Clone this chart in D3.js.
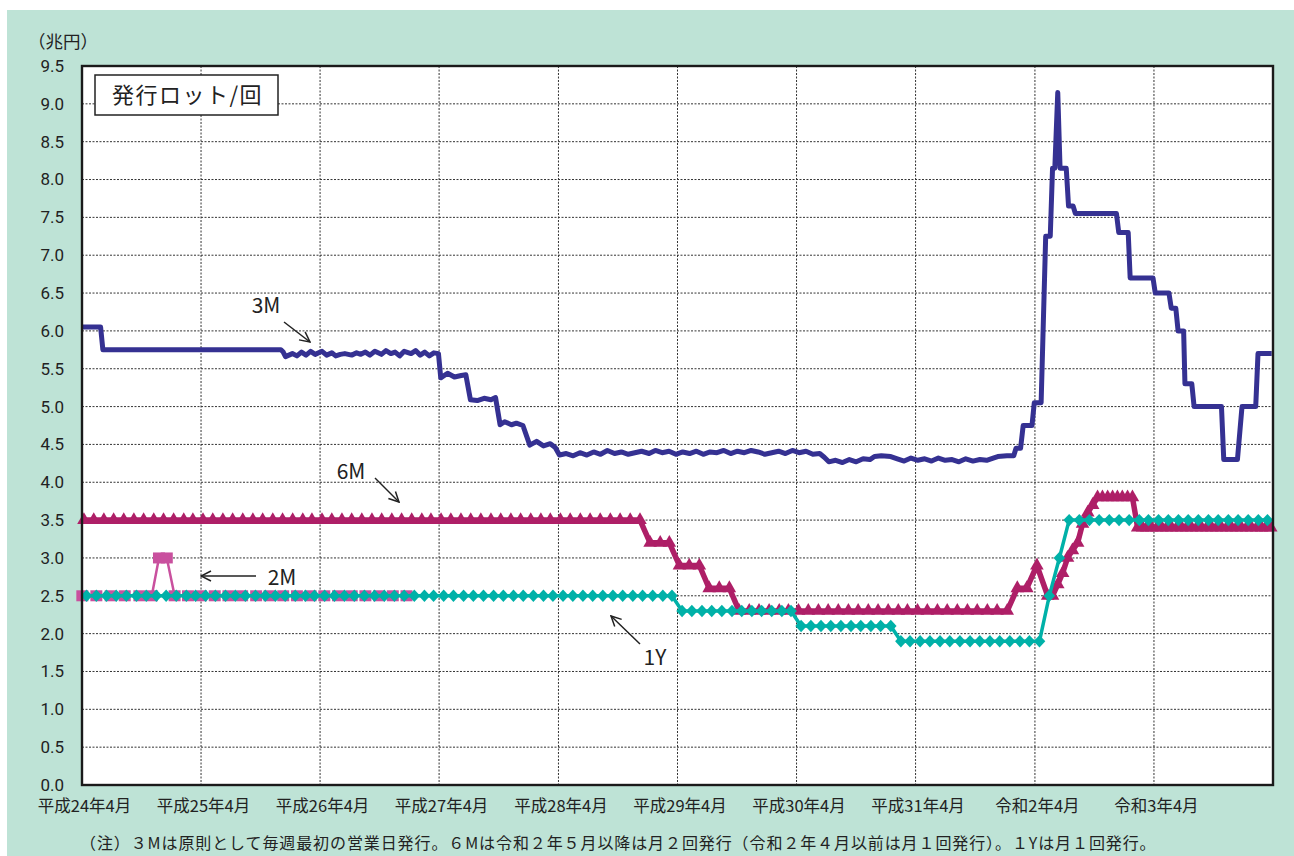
<!DOCTYPE html>
<html><head><meta charset="utf-8">
<script src="https://cdn.jsdelivr.net/npm/d3@7"></script>
<style>
html,body{margin:0;padding:0;background:#fff;}
svg{display:block;font-family:"Noto Sans CJK JP","Noto Sans",sans-serif;}
</style></head>
<body>
<svg id="c" width="1294" height="856"></svg>
<script>
// ---------------- DATA ----------------
const xTickDates = ["2012-04-01","2013-04-01","2014-04-01","2015-04-01","2016-04-01","2017-04-01","2018-04-01","2019-04-01","2020-04-01","2021-04-01"];
const xTickLabels = ["平成24年4月","平成25年4月","平成26年4月","平成27年4月","平成28年4月","平成29年4月","平成30年4月","平成31年4月","令和2年4月","令和3年4月"];
const yTicks = [0,0.5,1,1.5,2,2.5,3,3.5,4,4.5,5,5.5,6,6.5,7,7.5,8,8.5,9,9.5];

// 3M (weekly issuance, points read at changes)
const dates3M = ["2012-04-02","2012-05-28","2012-06-04","2013-12-02","2013-12-09","2013-12-16","2014-01-06","2014-01-20","2014-02-03","2014-02-17","2014-03-03","2014-03-17","2014-04-07","2014-04-21","2014-05-07","2014-05-19","2014-06-02","2014-06-16","2014-07-07","2014-07-22","2014-08-04","2014-08-18","2014-09-01","2014-09-16","2014-10-06","2014-10-20","2014-11-04","2014-11-17","2014-12-01","2014-12-15","2015-01-05","2015-01-19","2015-02-02","2015-02-16","2015-03-02","2015-03-16","2015-03-30",
"2015-04-06","2015-04-27","2015-05-18","2015-06-08","2015-06-22",
"2015-07-06","2015-07-27","2015-08-17","2015-09-07","2015-09-21",
"2015-10-05","2015-10-19","2015-11-09","2015-11-24","2015-12-14",
"2016-01-04","2016-01-25","2016-02-15","2016-03-07","2016-03-22",
"2016-04-04","2016-04-25","2016-05-16","2016-06-06","2016-06-27","2016-07-18","2016-08-08","2016-08-29","2016-09-20","2016-10-11","2016-11-01","2016-11-21","2016-12-12","2017-01-04","2017-01-23","2017-02-13","2017-03-06","2017-03-27","2017-04-17","2017-05-08","2017-05-29","2017-06-19","2017-07-10","2017-07-31","2017-08-21","2017-09-11","2017-10-02","2017-10-23","2017-11-13","2017-12-04","2017-12-25","2018-01-15","2018-02-05","2018-02-26","2018-03-19","2018-04-09","2018-04-30","2018-05-21","2018-06-11",
"2018-06-25","2018-07-09","2018-07-30","2018-08-20","2018-09-10","2018-10-01","2018-10-22","2018-11-12","2018-11-26","2018-12-17","2019-01-15","2019-02-04","2019-02-25","2019-03-18","2019-04-08","2019-04-29","2019-05-20","2019-06-10","2019-07-01","2019-07-22","2019-08-12","2019-09-02","2019-09-24","2019-10-15","2019-11-05","2019-11-25","2019-12-09","2020-01-06","2020-01-27",
"2020-02-03","2020-02-17","2020-02-25","2020-03-23","2020-03-30","2020-04-20","2020-05-04","2020-05-18","2020-05-25","2020-06-01","2020-06-10","2020-06-17","2020-07-06","2020-07-13","2020-07-27","2020-08-03","2020-12-07","2020-12-14","2021-01-12","2021-01-18","2021-03-29","2021-04-05","2021-05-17","2021-05-24","2021-06-07","2021-06-14","2021-07-01","2021-07-05","2021-07-26","2021-08-02","2021-10-25","2021-11-01","2021-12-13","2021-12-27","2022-02-07","2022-02-14","2022-03-28"];
const values3M = [6.05,6.05,5.75,5.75,5.72,5.66,5.70,5.67,5.72,5.68,5.73,5.69,5.73,5.68,5.71,5.67,5.69,5.70,5.68,5.71,5.69,5.72,5.68,5.73,5.69,5.74,5.70,5.72,5.67,5.73,5.70,5.74,5.68,5.72,5.67,5.71,5.70,
5.38,5.44,5.39,5.41,5.42,
5.09,5.08,5.11,5.09,5.12,
4.76,4.80,4.76,4.78,4.75,
4.49,4.54,4.48,4.51,4.46,
4.36,4.38,4.35,4.39,4.36,4.40,4.37,4.42,4.38,4.40,4.37,4.39,4.41,4.38,4.42,4.39,4.41,4.37,4.40,4.38,4.41,4.37,4.40,4.39,4.42,4.38,4.41,4.39,4.42,4.40,4.37,4.39,4.41,4.38,4.42,4.39,4.41,4.37,4.38,
4.33,4.27,4.29,4.26,4.30,4.27,4.31,4.30,4.34,4.35,4.34,4.31,4.28,4.32,4.29,4.31,4.28,4.32,4.29,4.30,4.27,4.31,4.28,4.30,4.29,4.32,4.34,4.35,4.35,
4.45,4.45,4.75,4.75,5.05,5.05,7.25,7.25,8.15,8.15,9.15,8.15,8.15,7.65,7.65,7.55,7.55,7.30,7.30,6.70,6.70,6.50,6.50,6.30,6.30,6.00,6.00,5.30,5.30,5.00,5.00,4.30,4.30,5.00,5.00,5.70,5.70];

// 6M: monthly Apr 2012 - Apr 2020 (issued early in month)
const values6Mmonthly = [3.5,3.5,3.5,3.5,3.5,3.5,3.5,3.5,3.5,3.5,3.5,3.5, 3.5,3.5,3.5,3.5,3.5,3.5,3.5,3.5,3.5,3.5,3.5,3.5, 3.5,3.5,3.5,3.5,3.5,3.5,3.5,3.5,3.5,3.5,3.5,3.5, 3.5,3.5,3.5,3.5,3.5,3.5,3.5,3.5,3.5,3.5,3.5,3.5, 3.5,3.5,3.5,3.5,3.5,3.5,3.5,3.5,3.5,3.2,3.2,3.2, 2.9,2.9,2.9,2.6,2.6,2.6,2.3,2.3,2.3,2.3,2.3,2.3, 2.3,2.3,2.3,2.3,2.3,2.3,2.3,2.3,2.3,2.3,2.3,2.3, 2.3,2.3,2.3,2.3,2.3,2.3,2.3,2.3,2.3,2.3,2.6,2.6, 2.9];
// 6M: twice a month from May 2020
const values6Msemi = [2.5,2.5,2.65,2.8,3.0,3.1,3.2,3.45,3.6,3.7,3.8,3.8,3.8,3.8,3.8,3.8,3.8,3.8,3.4,3.4,3.4,3.4,3.4,3.4,3.4,3.4,3.4,3.4,3.4,3.4,3.4,3.4,3.4,3.4,3.4,3.4,3.4,3.4,3.4,3.4,3.4,3.4,3.4,3.4,3.4,3.4];

// 1Y: monthly Apr 2012 - Mar 2022 (issued mid-month)
const values1Y = [2.5,2.5,2.5,2.5,2.5,2.5,2.5,2.5,2.5,2.5,2.5,2.5, 2.5,2.5,2.5,2.5,2.5,2.5,2.5,2.5,2.5,2.5,2.5,2.5, 2.5,2.5,2.5,2.5,2.5,2.5,2.5,2.5,2.5,2.5,2.5,2.5, 2.5,2.5,2.5,2.5,2.5,2.5,2.5,2.5,2.5,2.5,2.5,2.5, 2.5,2.5,2.5,2.5,2.5,2.5,2.5,2.5,2.5,2.5,2.5,2.5, 2.3,2.3,2.3,2.3,2.3,2.3,2.3,2.3,2.3,2.3,2.3,2.3, 2.1,2.1,2.1,2.1,2.1,2.1,2.1,2.1,2.1,2.1,1.9,1.9, 1.9,1.9,1.9,1.9,1.9,1.9,1.9,1.9,1.9,1.9,1.9,1.9, 1.9,2.5,3.0,3.5,3.5,3.5,3.5,3.5,3.5,3.5,3.5,3.5, 3.5,3.5,3.5,3.5,3.5,3.5,3.5,3.5,3.5,3.5,3.5,3.5];

// 2M
const dates2M = ["2012-04-02","2012-05-15","2012-06-28","2012-08-10","2012-09-24","2012-11-01","2012-11-23","2012-12-17","2013-01-10","2013-02-20","2013-04-01","2013-05-13","2013-06-24","2013-08-05","2013-09-17","2013-10-28","2013-12-09","2014-01-20","2014-03-03","2014-04-14","2014-05-26","2014-07-07","2014-08-18","2014-09-29","2014-11-10","2014-12-22"];
const values2M = [2.5,2.5,2.5,2.5,2.5,2.5,3.0,3.0,2.5,2.5,2.5,2.5,2.5,2.5,2.5,2.5,2.5,2.5,2.5,2.5,2.5,2.5,2.5,2.5,2.5,2.5];

// ---------------- BUILD ----------------
const parse = d3.timeParse("%Y-%m-%d");
const s3M = dates3M.map((d,i)=>({d:parse(d), v:values3M[i]}));
const s6M = values6Mmonthly.map((v,i)=>({d:new Date(2012,3+i,7), v}))
  .concat(values6Msemi.map((v,i)=>({d:new Date(2020,4+Math.floor(i/2), i%2===0?10:25), v})));
const s1Y = values1Y.map((v,i)=>({d:new Date(2012,3+i,15), v}));
const s2M = dates2M.map((d,i)=>({d:parse(d), v:values2M[i]}));

const svg = d3.select("#c");
const L=82, R=1273, T=66, B=785;
const x = d3.scaleTime().domain([new Date(2012,3,1), new Date(2022,3,1)]).range([L,R]);
const y = d3.scaleLinear().domain([0,9.5]).range([B,T]);

// background
svg.append("rect").attr("x",7).attr("y",10).attr("width",1287).attr("height",846).attr("fill","#bee3d6");
svg.append("rect").attr("x",L).attr("y",T).attr("width",R-L).attr("height",B-T).attr("fill","#fff");

// grid
const grid = svg.append("g");
grid.selectAll("line.h").data(yTicks.filter(t=>t>0 && t<9.5)).enter().append("line")
  .attr("x1",L).attr("x2",R).attr("y1",d=>y(d)).attr("y2",d=>y(d))
  .attr("stroke","#333").attr("stroke-width",1).attr("stroke-dasharray","2,1.5");
grid.selectAll("line.v").data(xTickDates.slice(1).map(parse)).enter().append("line")
  .attr("y1",T).attr("y2",B).attr("x1",d=>x(d)).attr("x2",d=>x(d))
  .attr("stroke","#333").attr("stroke-width",1).attr("stroke-dasharray","2,1.5");

// axes
const yAxis = d3.axisLeft(y).tickValues(yTicks).tickFormat(d3.format(".1f")).tickSize(0).tickPadding(18);
const gy = svg.append("g").attr("transform",`translate(${L},0)`).call(yAxis);
gy.select(".domain").remove();
gy.selectAll("text").attr("font-size",17).attr("fill","#222").attr("font-family","Roboto, 'Noto Sans', sans-serif");

const xAxis = d3.axisBottom(x).tickValues(xTickDates.map(parse)).tickFormat((d,i)=>xTickLabels[i]).tickSize(0).tickPadding(15);
const gx = svg.append("g").attr("transform",`translate(0,${B})`).call(xAxis);
gx.select(".domain").remove();
gx.selectAll("text").attr("font-size",16.5).attr("fill","#222").attr("font-family","'Noto Sans CJK JP', sans-serif").attr("dx",2);

// series
const line = d3.line().x(d=>x(d.d)).y(d=>y(d.v));
const plot = svg.append("g");
const diamond = {draw(ctx, size){ const w=5.8, h=6.2; ctx.moveTo(0,-h); ctx.lineTo(w,0); ctx.lineTo(0,h); ctx.lineTo(-w,0); ctx.closePath(); }};
const rectSym = {draw(ctx, size){ const w=6, h=5.5; ctx.rect(-w,-h,2*w,2*h); }};

function markers(data, type, size, color){
  plot.append("g").selectAll("path").data(data).enter().append("path")
    .attr("d", d3.symbol().type(type).size(size))
    .attr("transform", d=>`translate(${x(d.d)},${y(d.v)})`)
    .attr("fill", color);
}
// 2M
plot.append("path").datum(s2M).attr("d",line).attr("fill","none").attr("stroke","#c9509e").attr("stroke-width",2.5);
markers(s2M, rectSym, 0, "#c9509e");
// 6M
plot.append("path").datum(s6M).attr("d",line).attr("fill","none").attr("stroke","#ae1f67").attr("stroke-width",5.5);
markers(s6M, d3.symbolTriangle, 80, "#ae1f67");
// 1Y
plot.append("path").datum(s1Y).attr("d",line).attr("fill","none").attr("stroke","#00b1a8").attr("stroke-width",3.5);
markers(s1Y, diamond, 0, "#00b1a8");
// 3M
plot.append("path").datum(s3M).attr("d",line).attr("fill","none").attr("stroke","#353192").attr("stroke-width",5).attr("stroke-linejoin","round");

// border
svg.append("rect").attr("x",L).attr("y",T).attr("width",R-L).attr("height",B-T).attr("fill","none").attr("stroke","#1a1a1a").attr("stroke-width",2.4);

// unit label
svg.append("text").attr("x",28).attr("y",48).attr("font-size",17.5).attr("fill","#222").text("（兆円）");

// title box
svg.append("rect").attr("x",95).attr("y",75).attr("width",183).attr("height",40).attr("fill","#fff").attr("stroke","#222").attr("stroke-width",1.5);
svg.append("text").attr("x",187.5).attr("y",103).attr("text-anchor","middle").attr("font-size",22).attr("letter-spacing",1.5).attr("fill","#222").text("発行ロット/回");

// arrows
const defs = svg.append("defs");
defs.append("marker").attr("id","ah").attr("viewBox","-11 -6 12 12").attr("refX",0).attr("refY",0)
  .attr("markerWidth",12).attr("markerHeight",12).attr("markerUnits","userSpaceOnUse").attr("orient","auto")
  .append("path").attr("d","M-10,-5 L0,0 L-10,5").attr("fill","none").attr("stroke","#222").attr("stroke-width",1.5);
const arrows = [[284,322,310,342],[375,478,399,502],[256,576,201,576],[640,644,611,616]];
svg.append("g").selectAll("line").data(arrows).enter().append("line")
  .attr("x1",d=>d[0]).attr("y1",d=>d[1]).attr("x2",d=>d[2]).attr("y2",d=>d[3])
  .attr("stroke","#222").attr("stroke-width",1.5).attr("marker-end","url(#ah)");
const labels = [["3M",266,313],["6M",351,479],["2M",282,585],["1Y",655,665]];
svg.append("g").selectAll("text").data(labels).enter().append("text")
  .attr("x",d=>d[1]).attr("y",d=>d[2]).attr("text-anchor","middle").attr("font-size",21).attr("fill","#222").text(d=>d[0]);

// footnote
svg.append("text").attr("x",80).attr("y",849).attr("font-size",16).attr("letter-spacing",0.9).attr("fill","#222")
  .text("（注）３Mは原則として毎週最初の営業日発行。６Mは令和２年５月以降は月２回発行（令和２年４月以前は月１回発行）。１Yは月１回発行。");
</script>
</body></html>
